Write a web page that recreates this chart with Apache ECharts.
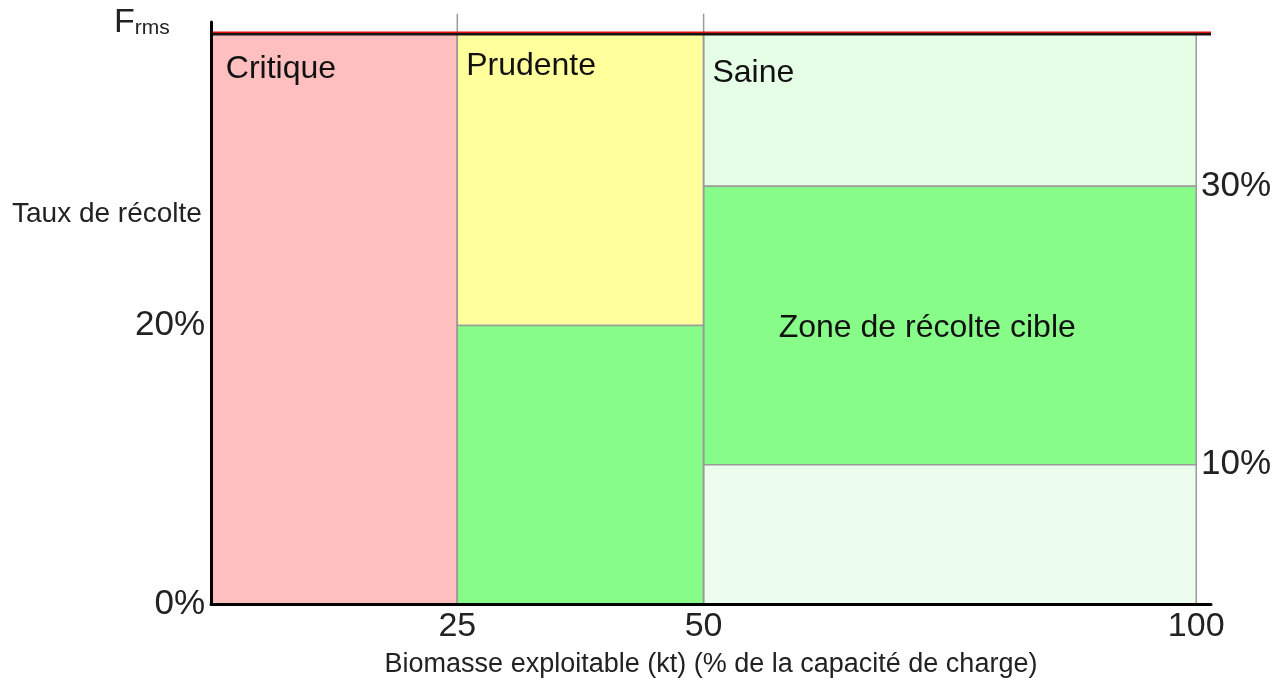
<!DOCTYPE html>
<html>
<head>
<meta charset="utf-8">
<script src="https://cdn.jsdelivr.net/npm/echarts@6/dist/echarts.min.js"></script>
<style>
html, body { margin: 0; padding: 0; background: #fff; }
#chart { width: 1284px; height: 678px; }
</style>
</head>
<body>
<div id="chart"></div>
<script>
const xTicks = [25, 50, 100];
const leftTicks = [0, 20];
const rightTicks = [10, 30];
const frmsRate = 41;
const dividers = [25, 50];
const dividerTop = 42.4;
// [x0, x1, y0, y1, zone]
const cells = [
    [0, 25, 0, 41, 'critique'],
    [25, 50, 20, 41, 'prudente'],
    [25, 50, 0, 20, 'cible'],
    [50, 100, 30, 41, 'saine'],
    [50, 100, 10, 30, 'cible'],
    [50, 100, 0, 10, 'saineBas']
];
// [x, y, texte, alignement]
const zoneLabels = [
    [1.5, 38.4, 'Critique', 'left'],
    [25.9, 38.6, 'Prudente', 'left'],
    [50.9, 38.1, 'Saine', 'left'],
    [72.7, 19.8, 'Zone de récolte cible', 'center']
];

const zoneColors = {
    critique: '#ffbfbf',
    prudente: '#ffff9c',
    saine: '#e6fde6',
    saineBas: '#edfded',
    cible: '#88fc88'
};
const font = 'Liberation Sans, Arial, sans-serif';

const myChart = echarts.init(document.getElementById('chart'));
myChart.setOption({
    animation: false,
    grid: { left: 211, right: 73, top: 22, bottom: 74, outerBoundsMode: 'none' },
    xAxis: {
        type: 'value',
        min: 0,
        max: 101.5,
        z: 10,
        name: 'Biomasse exploitable (kt) (% de la capacité de charge)',
        nameLocation: 'middle',
        nameGap: 47,
        nameTextStyle: { fontSize: 27, color: '#222', fontFamily: font },
        axisLine: { show: true, lineStyle: { color: '#000', width: 3 } },
        axisTick: { show: false },
        splitLine: { show: false },
        axisLabel: {
            customValues: xTicks,
            fontSize: 34,
            color: '#222',
            fontFamily: font,
            margin: 6
        }
    },
    yAxis: [{
        type: 'value',
        min: 0,
        max: 41.8,
        z: 10,
        axisLine: { show: true, lineStyle: { color: '#000', width: 3 } },
        axisTick: { show: false },
        splitLine: { show: false },
        axisLabel: {
            customValues: leftTicks,
            formatter: v => v + '%',
            fontSize: 35,
            color: '#222',
            fontFamily: font,
            margin: 6
        }
    }, {
        type: 'value',
        min: 0,
        max: 41.8,
        position: 'right',
        offset: -10,
        axisLine: { show: false },
        axisTick: { show: false },
        splitLine: { show: false },
        axisLabel: {
            customValues: rightTicks,
            formatter: v => v + '%',
            fontSize: 35,
            color: '#222',
            fontFamily: font,
            margin: 0
        }
    }],
    graphic: [{
        type: 'text',
        left: 12,
        top: 200,
        style: { text: 'Taux de récolte', fontSize: 28, fill: '#222', fontFamily: font }
    }, {
        type: 'text',
        left: 114,
        top: 6,
        style: {
            text: '{f|F}{s|rms}',
            fontFamily: font,
            fill: '#222',
            rich: {
                f: { fontSize: 34, fontFamily: font, fill: '#222', verticalAlign: 'bottom' },
                s: { fontSize: 21, fontFamily: font, fill: '#222', verticalAlign: 'bottom', padding: [0, 0, 1, 0] }
            }
        }
    }],
    series: [{
        type: 'custom',
        z: 1,
        data: cells,
        renderItem: (params, api) => {
            const c = cells[params.dataIndex];
            const p0 = api.coord([c[0], c[3]]);
            const p1 = api.coord([c[1], c[2]]);
            return {
                type: 'rect',
                shape: { x: p0[0], y: p0[1], width: p1[0] - p0[0], height: p1[1] - p0[1] },
                style: { fill: zoneColors[c[4]], stroke: '#9a9a9a', lineWidth: 1.5 }
            };
        }
    }, {
        type: 'custom',
        z: 2,
        clip: false,
        data: dividers,
        renderItem: (params, api) => {
            const x = dividers[params.dataIndex];
            const a = api.coord([x, 0]);
            const b = api.coord([x, dividerTop]);
            return {
                type: 'line',
                shape: { x1: a[0], y1: a[1], x2: b[0], y2: b[1] },
                style: { stroke: '#9a9a9a', lineWidth: 1.5 }
            };
        }
    }, {
        // ligne Frms : trait rouge posé sur un trait noir
        type: 'custom',
        z: 3,
        clip: false,
        data: [frmsRate],
        renderItem: (params, api) => {
            const a = api.coord([0, frmsRate]);
            const b = api.coord([101.5, frmsRate]);
            return {
                type: 'group',
                children: [{
                    type: 'line',
                    shape: { x1: a[0], y1: a[1] + 1, x2: b[0], y2: b[1] + 1 },
                    style: { stroke: '#151515', lineWidth: 2.5 }
                }, {
                    type: 'line',
                    shape: { x1: a[0], y1: a[1] - 1, x2: b[0], y2: b[1] - 1 },
                    style: { stroke: '#e01010', lineWidth: 1.5 }
                }]
            };
        }
    }, {
        type: 'custom',
        z: 5,
        data: zoneLabels,
        renderItem: (params, api) => {
            const l = zoneLabels[params.dataIndex];
            const p = api.coord([l[0], l[1]]);
            return {
                type: 'text',
                x: p[0],
                y: p[1],
                style: {
                    text: l[2],
                    fontSize: 32,
                    fontFamily: font,
                    fill: '#111',
                    align: l[3],
                    verticalAlign: 'middle'
                }
            };
        }
    }]
});
</script>
</body>
</html>
